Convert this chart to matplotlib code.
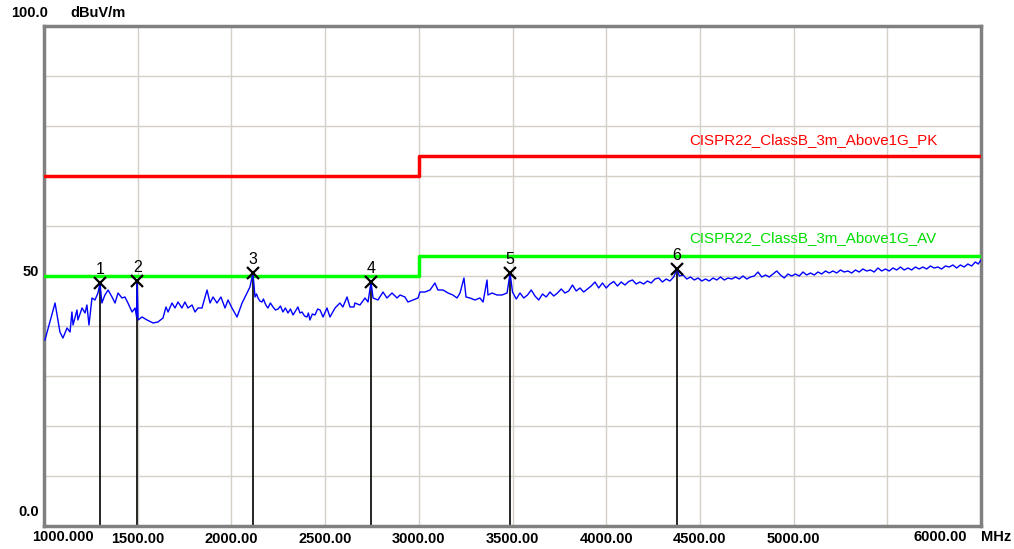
import numpy as np
import matplotlib
matplotlib.use("Agg")
import matplotlib.pyplot as plt

# limit lines (CISPR22 class B, 3 m, above 1 GHz)
limit_mhz = [1000, 3000, 6000]
pk_limit = [70, 74, 74]
av_limit = [50, 54, 54]

trace = [
    (1005, 37.2), (1059, 44.6), (1085, 38.8), (1101, 37.6), (1123, 39.6), (1139, 38.8), (1149, 42.8),
    (1155, 40.2), (1176, 43.2), (1181, 41.2), (1203, 43.6), (1219, 42.6), (1229, 44.2), (1240, 40.2),
    (1256, 45.6), (1272, 45.2), (1288, 46.6), (1299, 48.6), (1309, 44.6), (1325, 46.2), (1342, 47.2),
    (1363, 45.8), (1379, 44.6), (1395, 46.6), (1416, 45.6), (1432, 45.8), (1448, 44.6), (1470, 42.8),
    (1486, 43.6), (1494, 41.8), (1497, 49.0), (1502, 41.2), (1523, 41.8), (1550, 41.2), (1582, 40.6),
    (1608, 40.8), (1635, 41.6), (1651, 43.8), (1662, 42.8), (1683, 44.6), (1699, 43.6), (1715, 44.8),
    (1736, 43.6), (1752, 44.8), (1768, 43.6), (1790, 44.2), (1806, 42.8), (1822, 43.6), (1843, 43.6),
    (1870, 47.2), (1886, 44.6), (1902, 45.8), (1923, 44.6), (1944, 45.8), (1966, 43.6), (1982, 45.2),
    (2003, 43.6), (2030, 41.8), (2057, 44.6), (2083, 46.6), (2099, 47.8), (2115, 50.6), (2126, 45.8),
    (2134, 46.4), (2142, 45.6), (2152, 45.0), (2163, 44.8), (2171, 45.4), (2179, 44.6), (2187, 44.0),
    (2195, 43.6), (2208, 44.6), (2222, 43.8), (2235, 43.2), (2249, 43.4), (2262, 44.0), (2275, 42.8),
    (2288, 43.6), (2302, 42.6), (2315, 43.4), (2329, 42.2), (2342, 43.0), (2355, 43.8), (2366, 42.6),
    (2377, 42.8), (2390, 42.0), (2403, 41.8), (2411, 42.6), (2419, 41.2), (2432, 42.4), (2446, 42.2),
    (2460, 43.4), (2473, 43.2), (2489, 41.8), (2510, 43.6), (2526, 41.8), (2553, 43.6), (2579, 44.6),
    (2595, 43.8), (2617, 45.8), (2633, 43.8), (2654, 43.8), (2659, 44.6), (2686, 44.2), (2713, 45.6),
    (2729, 44.8), (2745, 48.8), (2756, 45.6), (2782, 45.2), (2809, 46.8), (2830, 45.6), (2857, 46.6),
    (2884, 45.6), (2900, 46.2), (2926, 45.8), (2942, 44.8), (2969, 45.2), (2996, 45.6), (3006, 46.8),
    (3033, 46.8), (3060, 47.2), (3086, 48.6), (3102, 47.2), (3129, 47.2), (3156, 46.6), (3182, 46.2),
    (3204, 45.6), (3220, 46.6), (3241, 49.6), (3252, 45.8), (3273, 45.6), (3300, 45.2), (3326, 45.6),
    (3343, 44.8), (3364, 49.2), (3369, 46.2), (3391, 46.6), (3417, 46.2), (3444, 46.2), (3471, 46.6),
    (3487, 50.6), (3500, 46.8), (3520, 45.4), (3540, 46.6), (3560, 45.6), (3580, 46.2), (3600, 47.2),
    (3620, 46.0), (3640, 45.2), (3660, 46.4), (3680, 45.8), (3700, 46.8), (3720, 46.0), (3740, 46.6),
    (3760, 47.4), (3780, 46.6), (3800, 47.0), (3820, 48.2), (3840, 47.0), (3860, 47.6), (3880, 46.8),
    (3900, 47.4), (3920, 48.0), (3940, 48.8), (3960, 47.6), (3980, 48.6), (4000, 47.6), (4020, 48.4),
    (4040, 48.9), (4060, 48.0), (4080, 48.8), (4100, 48.2), (4120, 48.9), (4140, 49.2), (4160, 48.4),
    (4180, 48.8), (4200, 48.4), (4220, 49.0), (4240, 48.6), (4260, 49.4), (4280, 49.6), (4300, 48.8),
    (4320, 49.4), (4340, 49.0), (4360, 49.8), (4378, 51.4), (4390, 50.0), (4410, 50.2), (4430, 49.4),
    (4450, 49.8), (4470, 49.2), (4490, 49.6), (4510, 49.0), (4530, 49.4), (4550, 49.0), (4570, 49.6),
    (4590, 49.2), (4610, 49.8), (4630, 49.2), (4650, 49.6), (4670, 49.4), (4690, 49.8), (4710, 49.4),
    (4730, 50.0), (4750, 49.4), (4770, 49.8), (4790, 50.0), (4810, 50.8), (4830, 49.8), (4850, 50.2),
    (4870, 49.8), (4890, 50.4), (4910, 51.0), (4930, 50.2), (4950, 49.6), (4970, 50.4), (4990, 50.0),
    (5010, 50.4), (5030, 50.0), (5050, 50.8), (5070, 50.2), (5090, 50.6), (5110, 50.2), (5130, 50.8),
    (5150, 50.4), (5170, 51.0), (5190, 50.6), (5210, 51.0), (5230, 50.6), (5250, 51.2), (5270, 50.8),
    (5290, 51.0), (5310, 50.6), (5330, 51.2), (5350, 50.8), (5370, 51.4), (5390, 51.0), (5410, 51.2),
    (5430, 50.8), (5450, 51.6), (5470, 51.0), (5490, 51.4), (5510, 51.0), (5530, 51.6), (5550, 51.2),
    (5570, 51.8), (5590, 51.2), (5610, 51.6), (5630, 51.2), (5650, 51.8), (5670, 51.4), (5690, 51.8),
    (5710, 51.4), (5730, 52.0), (5750, 51.6), (5770, 51.8), (5790, 51.4), (5810, 52.0), (5830, 51.8),
    (5850, 52.2), (5870, 51.6), (5890, 52.2), (5910, 51.8), (5930, 52.4), (5950, 52.0), (5970, 52.8),
    (5985, 52.4), (6000, 53.2),
]
trace_mhz = [p[0] for p in trace]
trace_dbuv = [p[1] for p in trace]

# peak markers
marker_no = [1, 2, 3, 4, 5, 6]
marker_mhz = [1299, 1497, 2115, 2745, 3487, 4378]
marker_dbuv = [48.6, 49.0, 50.6, 48.8, 50.6, 51.4]

x_ticks = [1000, 1500, 2000, 2500, 3000, 3500, 4000, 4500, 5000, 5500, 6000]
x_labels = ["", "1500.00", "2000.00", "2500.00", "3000.00", "3500.00", "4000.00", "4500.00", "5000.00", "", ""]

plt.rcParams['font.family'] = ['Liberation Sans', 'DejaVu Sans']

fig = plt.figure(figsize=(10.14, 5.49), dpi=100)
ax = fig.add_axes([44 / 1014, 23 / 549, 937 / 1014, 500 / 549])

ax.set_xlim(1000, 6000)
ax.set_ylim(0, 100)
ax.set_xticks(x_ticks)
ax.set_xticklabels(x_labels, fontsize=10.5, fontweight='bold')
ax.set_yticks(np.arange(0, 101, 10))
ax.set_yticklabels([])
ax.tick_params(length=0, pad=4)
ax.grid(True, color='#d4d0c8', lw=1)
ax.set_axisbelow(True)
for s in ax.spines.values():
    s.set_color('#808080')
    s.set_linewidth(2.5)

# marker drop lines go under the trace
for f, v in zip(marker_mhz, marker_dbuv):
    ax.plot([f, f], [0, v], color='black', lw=1.2, zorder=2)

ax.step(limit_mhz, pk_limit, where='post', color='#ff0000', lw=2.5, zorder=3)
ax.step(limit_mhz, av_limit, where='post', color='#00ff00', lw=2.5, zorder=3)
ax.plot(trace_mhz, trace_dbuv, color='#0000ff', lw=1, zorder=4)

ax.plot(marker_mhz, marker_dbuv, 'x', color='black', ms=8, mew=1.6, zorder=5)
for n, f, v in zip(marker_no, marker_mhz, marker_dbuv):
    ax.annotate(str(n), (f, v), xytext=(0, 4), textcoords='offset points', ha='center', va='bottom',
                fontsize=11.5, color='black', zorder=6)

ax.text(4442, 77.2, "CISPR22_ClassB_3m_Above1G_PK", color='#ff0000', fontsize=10.9, va='center', ha='left')
ax.text(4442, 57.6, "CISPR22_ClassB_3m_Above1G_AV", color='#00dd00', fontsize=10.9, va='center', ha='left')

# axis annotations the way the receiver software places them
yt = ax.get_yaxis_transform()
ax.text(0.004, 102.6, "100.0", transform=yt, ha='right', va='center', fontsize=10.5, fontweight='bold', clip_on=False)
ax.text(0.028, 102.6, "dBuV/m", transform=yt, ha='left', va='center', fontsize=10.5, fontweight='bold', clip_on=False)
ax.text(-0.005, 50.8, "50", transform=yt, ha='right', va='center', fontsize=10.5, fontweight='bold')
ax.text(-0.005, 2.8, "0.0", transform=yt, ha='right', va='center', fontsize=10.5, fontweight='bold')

ax.text(-0.0128, -0.022, "1000.000", transform=ax.transAxes, ha='left', va='center', fontsize=10.5, fontweight='bold')
ax.text(0.985, -0.022, "6000.00", transform=ax.transAxes, ha='right', va='center', fontsize=10.5, fontweight='bold')
ax.text(1.0, -0.022, "MHz", transform=ax.transAxes, ha='left', va='center', fontsize=10.5, fontweight='bold')

fig.savefig("out.png", dpi=100)
